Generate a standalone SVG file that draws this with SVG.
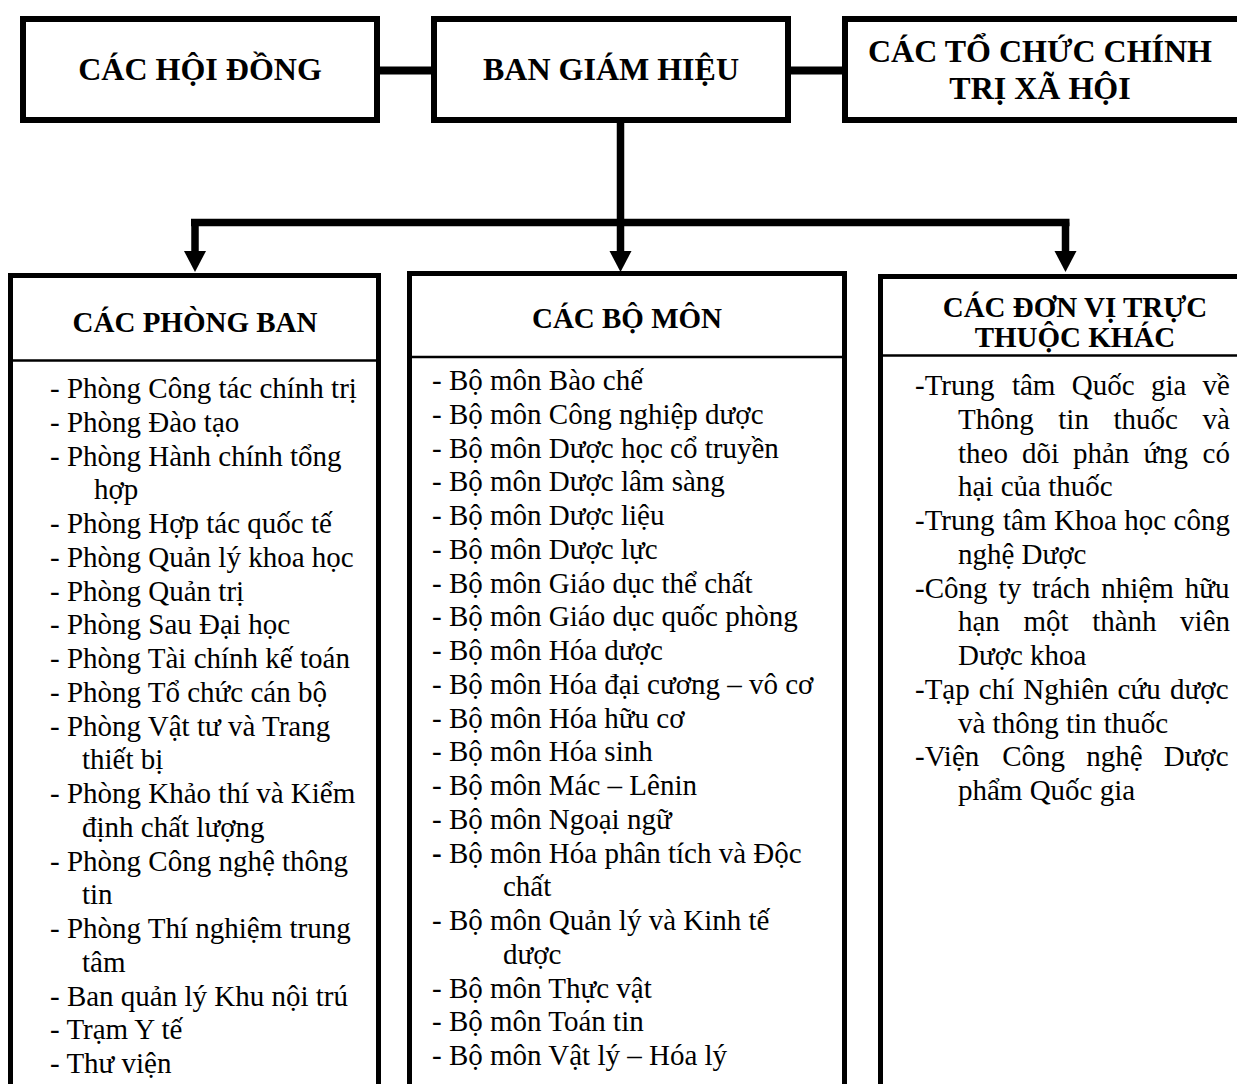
<svg xmlns="http://www.w3.org/2000/svg" width="1237" height="1084" viewBox="0 0 1237 1084">
<style>
.box{fill:#fff;stroke:#000;stroke-width:6}
.ubox{fill:#fff;stroke:#000;stroke-width:5}
.div{stroke:#000;stroke-width:2.5}
.conn{fill:none;stroke:#000;stroke-width:8}
.bar{fill:none;stroke:#000;stroke-width:7.5}
text{font-family:"Liberation Serif","Times New Roman",serif;fill:#000}
.t1{font-size:32px;font-weight:bold;text-anchor:middle}
.t2{font-size:29px;font-weight:bold;text-anchor:middle}
.b{font-size:29px}
</style>
<defs>
<marker id="ah" markerUnits="userSpaceOnUse" markerWidth="24" markerHeight="24" viewBox="0 -12 24 24" refX="1" refY="0" orient="auto">
<path d="M0,-11 L21,0 L0,11 z" fill="#000"/>
</marker>
</defs>
<rect width="1237" height="1084" fill="#fff"/>
<g id="connectors">
<path class="conn" d="M377,70.5 H434"/>
<path class="conn" d="M788,70.5 H845"/>
<path class="bar" d="M620.5,123 V252" marker-end="url(#ah)"/>
<path class="bar" d="M191,222.5 H1069.5"/>
<path class="bar" d="M195,222.5 V252" marker-end="url(#ah)"/>
<path class="bar" d="M1065.5,222.5 V252" marker-end="url(#ah)"/>
</g>
<g id="hoi-dong">
<rect class="box" x="23" y="19" width="354" height="101"/>
<text class="t1" x="200" y="80">CÁC HỘI ĐỒNG</text>
</g>
<g id="ban-giam-hieu">
<rect class="box" x="434" y="19" width="354" height="101"/>
<text class="t1" x="611" y="80">BAN GIÁM HIỆU</text>
</g>
<g id="to-chuc">
<rect class="box" x="845" y="19" width="420" height="101"/>
<text class="t1" x="1040" y="62">CÁC TỔ CHỨC CHÍNH</text>
<text class="t1" x="1040" y="99">TRỊ XÃ HỘI</text>
</g>
<g id="phong-ban">
<rect class="ubox" x="10.5" y="275.5" width="368" height="900"/>
<line class="div" x1="8" y1="360.5" x2="378" y2="360.5"/>
<text class="t2" x="195" y="332">CÁC PHÒNG BAN</text>
<text class="b">
<tspan x="50" y="398">- Phòng Công tác chính trị</tspan>
<tspan x="50" y="431.75">- Phòng Đào tạo</tspan>
<tspan x="50" y="465.5">- Phòng Hành chính tổng</tspan>
<tspan x="94" y="499.25">hợp</tspan>
<tspan x="50" y="533">- Phòng Hợp tác quốc tế</tspan>
<tspan x="50" y="566.75">- Phòng Quản lý khoa học</tspan>
<tspan x="50" y="600.5">- Phòng Quản trị</tspan>
<tspan x="50" y="634.25">- Phòng Sau Đại học</tspan>
<tspan x="50" y="668">- Phòng Tài chính kế toán</tspan>
<tspan x="50" y="701.75">- Phòng Tổ chức cán bộ</tspan>
<tspan x="50" y="735.5">- Phòng Vật tư và Trang</tspan>
<tspan x="82" y="769.25">thiết bị</tspan>
<tspan x="50" y="803">- Phòng Khảo thí và Kiểm</tspan>
<tspan x="82" y="836.75">định chất lượng</tspan>
<tspan x="50" y="870.5">- Phòng Công nghệ thông</tspan>
<tspan x="82" y="904.25">tin</tspan>
<tspan x="50" y="938">- Phòng Thí nghiệm trung</tspan>
<tspan x="82" y="971.75">tâm</tspan>
<tspan x="50" y="1005.5">- Ban quản lý Khu nội trú</tspan>
<tspan x="50" y="1039.25">- Trạm Y tế</tspan>
<tspan x="50" y="1073">- Thư viện</tspan>
</text>
</g>
<g id="bo-mon">
<rect class="ubox" x="409.5" y="273.5" width="435" height="900"/>
<line class="div" x1="412" y1="357" x2="842" y2="357"/>
<text class="t2" x="627" y="328">CÁC BỘ MÔN</text>
<text class="b">
<tspan x="432" y="390">- Bộ môn Bào chế</tspan>
<tspan x="432" y="423.75">- Bộ môn Công nghiệp dược</tspan>
<tspan x="432" y="457.5">- Bộ môn Dược học cổ truyền</tspan>
<tspan x="432" y="491.25">- Bộ môn Dược lâm sàng</tspan>
<tspan x="432" y="525">- Bộ môn Dược liệu</tspan>
<tspan x="432" y="558.75">- Bộ môn Dược lực</tspan>
<tspan x="432" y="592.5">- Bộ môn Giáo dục thể chất</tspan>
<tspan x="432" y="626.25">- Bộ môn Giáo dục quốc phòng</tspan>
<tspan x="432" y="660">- Bộ môn Hóa dược</tspan>
<tspan x="432" y="693.75">- Bộ môn Hóa đại cương – vô cơ</tspan>
<tspan x="432" y="727.5">- Bộ môn Hóa hữu cơ</tspan>
<tspan x="432" y="761.25">- Bộ môn Hóa sinh</tspan>
<tspan x="432" y="795">- Bộ môn Mác – Lênin</tspan>
<tspan x="432" y="828.75">- Bộ môn Ngoại ngữ</tspan>
<tspan x="432" y="862.5" font-weight="bold">-</tspan><tspan> Bộ môn Hóa phân tích và Độc</tspan>
<tspan x="503" y="896.25">chất</tspan>
<tspan x="432" y="930">- Bộ môn Quản lý và Kinh tế</tspan>
<tspan x="503" y="963.75">dược</tspan>
<tspan x="432" y="997.5">- Bộ môn Thực vật</tspan>
<tspan x="432" y="1031.25">- Bộ môn Toán tin</tspan>
<tspan x="432" y="1065">- Bộ môn Vật lý – Hóa lý</tspan>
</text>
</g>
<g id="don-vi-khac">
<rect class="ubox" x="880.5" y="276.5" width="420" height="900"/>
<line class="div" x1="883" y1="355.5" x2="1237" y2="355.5"/>
<text class="t2" x="1075" y="317">CÁC ĐƠN VỊ TRỰC</text>
<text class="t2" x="1075" y="347">THUỘC KHÁC</text>
<text class="b">
<tspan x="915" y="395">-Trung</tspan><tspan x="1011.9">tâm</tspan><tspan x="1071.7">Quốc</tspan><tspan x="1150.9">gia</tspan><tspan x="1202.6">về</tspan>
<tspan x="958" y="428.75">Thông</tspan><tspan x="1058.3">tin</tspan><tspan x="1113.5">thuốc</tspan><tspan x="1202.6">và</tspan>
<tspan x="958" y="462.5">theo</tspan><tspan x="1021.9">dõi</tspan><tspan x="1073">phản</tspan><tspan x="1143.4">ứng</tspan><tspan x="1202.6">có</tspan>
<tspan x="958" y="496.25">hại của thuốc</tspan>
<tspan x="915" y="530">-Trung</tspan><tspan x="1003">tâm</tspan><tspan x="1054">Khoa</tspan><tspan x="1124.3">học</tspan><tspan x="1173.6">công</tspan>
<tspan x="958" y="563.75">nghệ Dược</tspan>
<tspan x="915" y="597.5">-Công</tspan><tspan x="998.6">ty</tspan><tspan x="1032.2">trách</tspan><tspan x="1101.3">nhiệm</tspan><tspan x="1184.8">hữu</tspan>
<tspan x="958" y="631.25">hạn</tspan><tspan x="1023.5">một</tspan><tspan x="1092.2">thành</tspan><tspan x="1180.1">viên</tspan>
<tspan x="958" y="665">Dược khoa</tspan>
<tspan x="915" y="698.75">-Tạp</tspan><tspan x="978.8">chí</tspan><tspan x="1023.2">Nghiên</tspan><tspan x="1117.6">cứu</tspan><tspan x="1170.1">dược</tspan>
<tspan x="958" y="732.5">và thông tin thuốc</tspan>
<tspan x="915" y="766.25">-Viện</tspan><tspan x="1002.2">Công</tspan><tspan x="1086.2">nghệ</tspan><tspan x="1163.7">Dược</tspan>
<tspan x="958" y="800">phẩm Quốc gia</tspan>
</text>
</g>
</svg>
